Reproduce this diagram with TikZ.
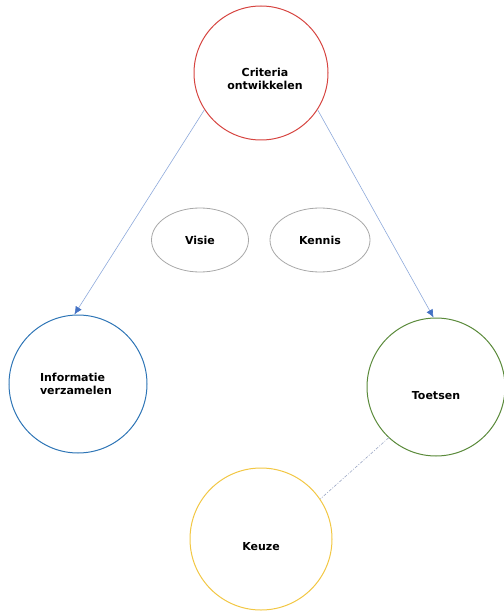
\documentclass[tikz,border=0pt]{standalone}
\usepackage{fontspec}
\setmainfont{DejaVu Sans}
\usetikzlibrary{arrows.meta,shapes.geometric}
\definecolor{cred}{HTML}{D64541}
\definecolor{cblue}{HTML}{2E75B6}
\definecolor{cgreen}{HTML}{5A8A3A}
\definecolor{cyellow}{HTML}{F2C744}
\definecolor{cgray}{HTML}{A8A8A8}
\definecolor{cline}{HTML}{8EA9DB}
\definecolor{ctip}{HTML}{4472C4}
\definecolor{cdash}{HTML}{9AA6C4}
\begin{document}
\begin{tikzpicture}[x=1pt,y=1pt,
  bubble/.style={circle,draw,line width=1pt,minimum size=#1,inner sep=0pt},
  lbl/.style={font=\bfseries\fontsize{11}{13}\selectfont,inner sep=0pt},
  oval/.style={ellipse,draw=cgray,line width=0.8pt,minimum width=97pt,minimum height=64pt,inner sep=0pt,font=\bfseries\fontsize{11}{13}\selectfont},
  link/.style={draw=cline,line width=0.6pt,-{Latex[length=8pt,width=7pt,fill=ctip,color=ctip]}},
  dashlink/.style={draw=cdash,line width=0.6pt,dash pattern=on 3pt off 1.5pt on 1pt off 1.5pt}]
\useasboundingbox (0,0) rectangle (503,-612);
\node[bubble=134pt,draw=cred] (crit) at (261,-73) {};
\node[bubble=138pt,draw=cblue] (info) at (78,-384) {};
\node[bubble=138pt,draw=cgreen] (toets) at (436,-387) {};
\node[bubble=142pt,draw=cyellow] (keuze) at (261,-539) {};
\node[lbl,align=center] (critl) at (265,-79) {Criteria\\ontwikkelen};
\node[lbl,align=left] (infol) at (76,-384) {Informatie\\verzamelen};
\node[lbl] (toetsl) at (436,-396) {Toetsen};
\node[lbl] (keuzel) at (261,-547) {Keuze};
\node[oval] (visie) at (200,-240) {Visie};
\node[oval,minimum width=100pt] (kennis) at (320,-240) {Kennis};
\draw[link] (crit.213) -- (info.93);
\draw[link] (crit.327) -- (toets.92);
\draw[dashlink] (toets.227) -- (keuze.34);
\end{tikzpicture}
\end{document}
